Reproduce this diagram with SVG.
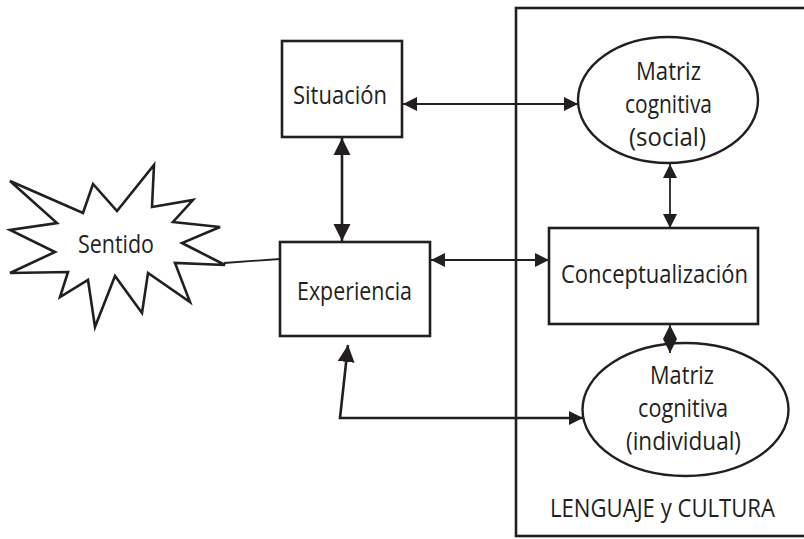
<svg xmlns="http://www.w3.org/2000/svg" width="804" height="539" viewBox="0 0 804 539">
<defs>
<marker id="ah" viewBox="0 0 10 10" refX="10" refY="5" markerUnits="userSpaceOnUse" markerWidth="15" markerHeight="14" orient="auto-start-reverse"><path d="M0,0 L10,5 L0,10 z" fill="#231f20"/></marker>
<marker id="ahBig" viewBox="0 0 10 10" refX="10" refY="5" markerUnits="userSpaceOnUse" markerWidth="17" markerHeight="18" orient="auto-start-reverse"><path d="M0,0 L10,5 L0,10 z" fill="#231f20"/></marker>
<style>
.box{fill:#fff;stroke:#231f20;stroke-width:2.6}
.ell{fill:#fff;stroke:#231f20;stroke-width:2.4}
.frame{fill:none;stroke:#231f20;stroke-width:2.6}
.lbl{font-family:"Open Sans","DejaVu Sans",sans-serif;font-size:25px;fill:#231f20;text-anchor:middle}
.con{fill:none;stroke:#231f20;stroke-width:1.8}
.conT{fill:none;stroke:#231f20;stroke-width:2.6}
</style>
</defs>
<rect width="804" height="539" fill="#fff"/>
<g id="lenguaje-cultura">
<rect class="frame" x="516" y="8" width="400" height="528"/>
<text class="lbl" x="662.5" y="517" textLength="225" lengthAdjust="spacingAndGlyphs">LENGUAJE y CULTURA</text>
</g>
<g id="sentido">
<polygon class="box" points="10,181 83,213 93,184 117,211 154,165 152,207 193,200 173,222 220,227 182,243 225,265 175,263 190,302 148,273 142,313 115,276 95,327 88,280 60,297 68,272 10,273 55,252 10,230 57,223"/>
<text class="lbl" x="116" y="253" textLength="76" lengthAdjust="spacingAndGlyphs">Sentido</text>
</g>
<g id="situacion">
<rect class="box" x="282" y="41" width="120" height="96"/>
<text class="lbl" x="340" y="104" textLength="94" lengthAdjust="spacingAndGlyphs">Situación</text>
</g>
<g id="experiencia">
<rect class="box" x="280" y="242" width="150" height="94"/>
<text class="lbl" x="354.5" y="300" textLength="115" lengthAdjust="spacingAndGlyphs">Experiencia</text>
</g>
<g id="matriz-social">
<ellipse class="ell" cx="668" cy="100" rx="90" ry="63"/>
<text class="lbl" x="668.5" y="80" textLength="65" lengthAdjust="spacingAndGlyphs">Matriz</text>
<text class="lbl" x="668.5" y="113" textLength="87" lengthAdjust="spacingAndGlyphs">cognitiva</text>
<text class="lbl" x="667.5" y="146" textLength="77" lengthAdjust="spacingAndGlyphs">(social)</text>
</g>
<g id="conceptualizacion">
<rect class="box" x="549" y="228" width="209" height="96"/>
<text class="lbl" x="654.5" y="283" textLength="187" lengthAdjust="spacingAndGlyphs">Conceptualización</text>
</g>
<g id="matriz-individual">
<ellipse class="ell" cx="685.5" cy="409.5" rx="103" ry="66.5"/>
<text class="lbl" x="682" y="384" textLength="64" lengthAdjust="spacingAndGlyphs">Matriz</text>
<text class="lbl" x="683" y="417" textLength="90" lengthAdjust="spacingAndGlyphs">cognitiva</text>
<text class="lbl" x="683.5" y="450" textLength="115" lengthAdjust="spacingAndGlyphs">(individual)</text>
</g>
<g id="connectors">
<line class="con" x1="224" y1="263" x2="280" y2="259"/>
<line class="conT" x1="342" y1="138" x2="342" y2="241" marker-start="url(#ahBig)" marker-end="url(#ahBig)"/>
<line class="con" x1="403" y1="104" x2="578" y2="104" marker-start="url(#ah)" marker-end="url(#ah)"/>
<line class="con" x1="431" y1="260" x2="549" y2="260" marker-start="url(#ah)" marker-end="url(#ah)"/>
<line class="con" x1="670" y1="164" x2="670" y2="228" marker-start="url(#ah)" marker-end="url(#ah)"/>
<line class="con" x1="670" y1="339" x2="670" y2="325" marker-end="url(#ah)"/>
<line class="con" x1="670" y1="338" x2="670" y2="353" marker-end="url(#ah)"/>
<path class="conT" d="M348,345 L340,418 L583,418" marker-start="url(#ahBig)" marker-end="url(#ah)"/>
</g>
</svg>
